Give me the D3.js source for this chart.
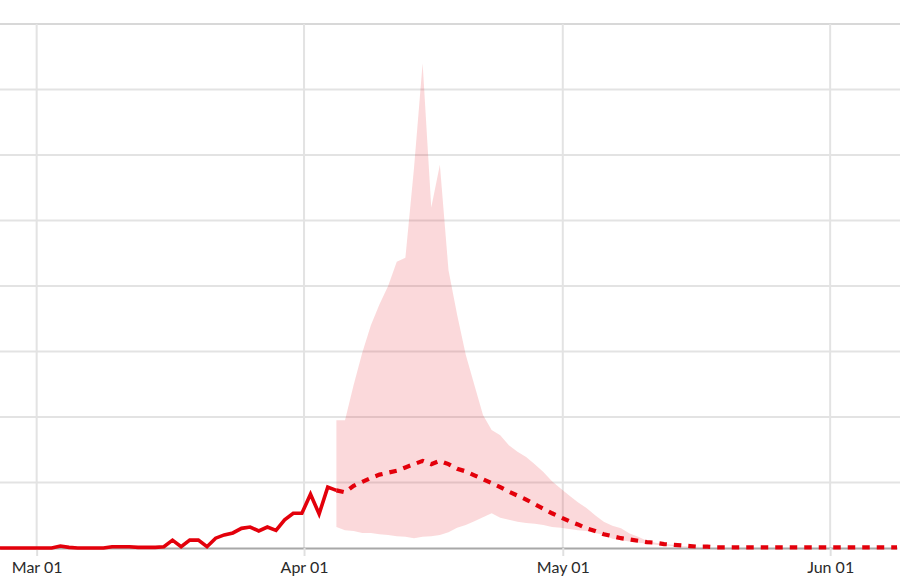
<!DOCTYPE html>
<html>
<head>
<meta charset="utf-8">
<script src="https://cdn.jsdelivr.net/npm/d3@7"></script>
<style>
  html, body { margin: 0; padding: 0; background: #fff; }
  svg { display: block; }
  .tick text { font-family: Lato, "Open Sans", sans-serif; }
</style>
</head>
<body>
<svg id="chart" width="900" height="586"></svg>
<script>
// ---- data ----
const observedStart = "2020-02-25T18:00";
const observedValues = [0,0,0,0,0,0,0,3,1,0,0,0,0,2,2,2,1,1,1,2,12,2,12,12,2,15,20,23,30,32,26,32,27,43,53,53,82,52,93,88];

const forecastStart = "2020-04-04T18:00";
const forecastValues = [88,85,95,101,107,112,115,118,123,128,133,128,133,128,121,117,111,105,99,93,86,80,74,67,60,53,47,41,36,30,26,21,18,15,13,11,9,8,6,5,4,3,2,2,1,
  1,1,1,1,1,1,1,1,1,1,1,1,1,1,1,1,1,1,1,1,1];

const bandStart = "2020-04-04T18:00";
const bandUpper = [195,195,249,298,340,372,400,437,443,580,740,520,585,424,356,295,249,203,180,172,157,147,139,128,116,102,91,80,70,61,50,40,34,30,22,17,11,8,6,5,3,2,2];
const bandLower = [32,27,26,23,23,21,20,18,17,15,17,18,20,24,31,35,41,47,53,46,43,40,38,37,35,32,31,29,27,26,23,20,14,12,10,8,7,5,4,3,2,1,1];

const yTicks = [0,100,200,300,400,500,600,700,800];
const xTickDates = ["2020-03-01","2020-04-01","2020-05-01","2020-06-01"];

(function () {
// ---- helpers ----
const parse = d3.isoParse;
function series(start, values) {
  const s = parse(start);
  return values.map((v, i) => ({ date: d3.timeDay.offset(s, i), value: v }));
}
const observed = series(observedStart, observedValues);
const forecast = series(forecastStart, forecastValues);
const band = bandUpper.map((u, i) => ({ date: d3.timeDay.offset(parse(bandStart), i), lo: bandLower[i], hi: u }));

const W = 900;
const plotTop = 24, plotBottom = 548;

const x = d3.scaleTime()
  .domain([observed[0].date, forecast[forecast.length - 1].date])
  .range([0, 897]);
const y = d3.scaleLinear().domain([0, 800]).range([plotBottom, plotTop]);

const svg = d3.select("#chart");

// horizontal grid
svg.append("g").selectAll("line").data(yTicks.filter(d => d > 0)).join("line")
  .attr("x1", 0).attr("x2", W)
  .attr("y1", d => y(d)).attr("y2", d => y(d))
  .attr("stroke", d => d === 800 ? "#d8d8d8" : "#e3e3e3")
  .attr("stroke-width", 2);

// vertical grid (month ticks)
const xTicks = xTickDates.map(d => parse(d));
svg.append("g").selectAll("line").data(xTicks).join("line")
  .attr("x1", d => x(d)).attr("x2", d => x(d))
  .attr("y1", plotTop).attr("y2", plotBottom)
  .attr("stroke", "#e3e3e3").attr("stroke-width", 2);

// band
const area = d3.area().x(d => x(d.date)).y0(d => y(d.lo)).y1(d => y(d.hi));
svg.append("path").datum(band)
  .attr("d", area)
  .attr("fill", "#e4000b").attr("fill-opacity", 0.15);

// x axis
const xAxis = d3.axisBottom(x)
  .tickValues(xTicks)
  .tickFormat(d3.timeFormat("%b %d"))
  .tickSize(8).tickSizeOuter(0).tickPadding(6);
const gx = svg.append("g").attr("transform", `translate(0,${plotBottom})`).call(xAxis);
gx.select(".domain").attr("stroke", "#a8a8a8").attr("stroke-width", 2);
gx.selectAll(".tick line").attr("stroke", "#e0e0e0").attr("stroke-width", 2);
gx.selectAll(".tick text").attr("fill", "#2a2a2a").attr("font-size", 16);

// lines
const line = d3.line().x(d => x(d.date)).y(d => y(d.value));
svg.append("path").datum(forecast)
  .attr("d", line)
  .attr("fill", "none").attr("stroke", "#e3000b")
  .attr("stroke-width", 4.2).attr("stroke-dasharray", "7.5,7");
svg.append("path").datum(observed)
  .attr("d", line)
  .attr("fill", "none").attr("stroke", "#e3000b")
  .attr("stroke-width", 3.6).attr("stroke-linejoin", "miter");
})();
</script>
</body>
</html>
